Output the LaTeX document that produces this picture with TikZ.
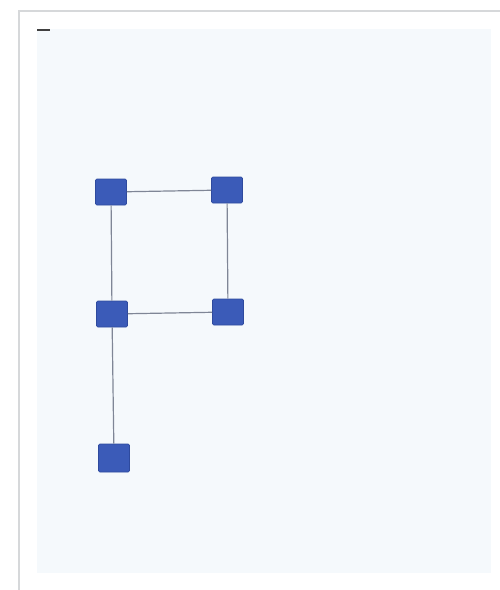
\documentclass[tikz,border=0pt]{standalone}
\usepackage{xcolor}
\definecolor{padblue}{HTML}{3B5BB8}
\definecolor{inkblue}{HTML}{2E4A9E}
\definecolor{pencil}{HTML}{7F8696}
\definecolor{paper}{HTML}{F5F9FC}
\definecolor{framegray}{HTML}{D6D8DA}
\usetikzlibrary{positioning}
\tikzset{
  sq/.style  ={draw=inkblue,fill=padblue,rounded corners=1.2pt,line width=0.6pt,
               minimum width=31pt,minimum height=26pt,inner sep=0pt},
  wire/.style={draw=pencil,line width=1.2pt},
}

\begin{document}
\begin{tikzpicture}[x=1pt,y=-1pt]
% sheet and photo frame
\useasboundingbox (0,0) rectangle (500,590);
\fill[white] (0,0) rectangle (500,590);
\draw[framegray,line width=2pt] (19,590) -- (19,11) -- (500,11);
\fill[paper] (37,29) rectangle (491,573);
\draw[black!75,line width=1.4pt] (37,30) -- (50,30);

% squares
\node[sq] (tl) at (111,192) {};
\node[sq] (tr) at (227,190) {};
\node[sq] (ml) at (112,314) {};
\node[sq] (mr) at (228,312) {};
\node[sq,minimum height=28pt] (bl) at (114,458) {};

% pencil lines
\draw[wire] (tl) -- (tr);
\draw[wire] (tl) -- (ml);
\draw[wire] (tr) -- (mr);
\draw[wire] (ml) -- (mr);
\draw[wire] (ml) -- (bl);
\end{tikzpicture}
\end{document}
